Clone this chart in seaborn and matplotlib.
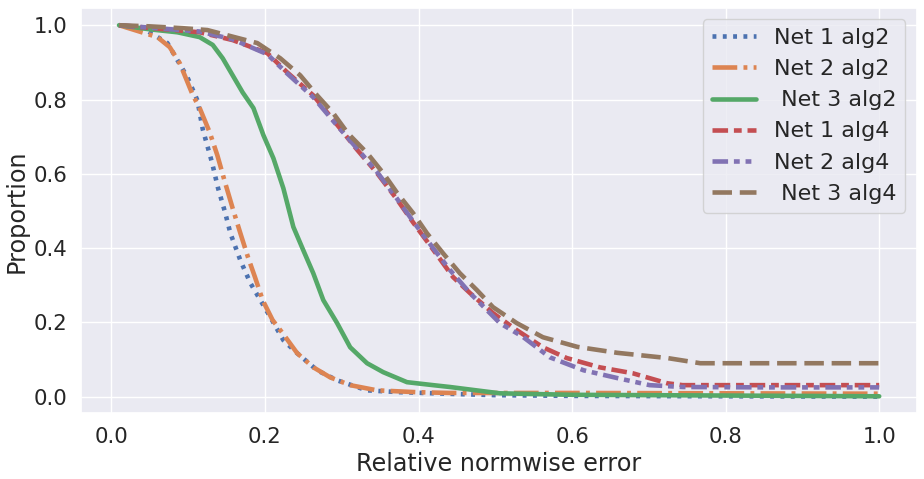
import numpy as np
import pandas as pd
import seaborn as sns
import matplotlib.pyplot as plt

# curves (relative error vs proportion above it)
net1_alg2_x = [0.010, 0.041, 0.073, 0.086, 0.099, 0.112, 0.119, 0.131, 0.139, 0.148, 0.155,
               0.168, 0.181, 0.194, 0.207, 0.224, 0.242, 0.268, 0.294, 0.333, 0.376, 0.45,
               0.5, 0.6, 0.8, 1.0]
net1_alg2_y = [1.000, 0.992, 0.952, 0.906, 0.860, 0.798, 0.720, 0.631, 0.561, 0.497, 0.440,
               0.367, 0.306, 0.260, 0.214, 0.152, 0.117, 0.071, 0.044, 0.017, 0.012, 0.007,
               0.004, 0.002, 0.001, 0.000]

net2_alg2_x = [0.010, 0.060, 0.076, 0.089, 0.106, 0.115, 0.128, 0.138, 0.148, 0.158, 0.168,
               0.178, 0.187, 0.197, 0.210, 0.223, 0.242, 0.263, 0.285, 0.311, 0.346, 0.398,
               0.441, 0.6, 0.8, 1.0]
net2_alg2_y = [1.000, 0.968, 0.941, 0.898, 0.812, 0.777, 0.712, 0.650, 0.577, 0.507, 0.440,
               0.375, 0.322, 0.260, 0.206, 0.171, 0.117, 0.079, 0.052, 0.031, 0.017, 0.012,
               0.010, 0.010, 0.009, 0.008]

net3_alg2_x = [0.010, 0.050, 0.086, 0.115, 0.132, 0.145, 0.158, 0.171, 0.185, 0.198, 0.211,
               0.224, 0.233, 0.237, 0.250, 0.263, 0.276, 0.294, 0.311, 0.333, 0.354, 0.385,
               0.419, 0.441, 0.506, 0.6, 0.8, 1.0]
net3_alg2_y = [1.000, 0.989, 0.981, 0.968, 0.947, 0.911, 0.865, 0.819, 0.777, 0.704, 0.642,
               0.561, 0.489, 0.457, 0.394, 0.332, 0.260, 0.198, 0.133, 0.090, 0.066, 0.039,
               0.031, 0.026, 0.009, 0.005, 0.003, 0.001]

net1_alg4_x = [0.010, 0.115, 0.158, 0.203, 0.229, 0.263, 0.289, 0.320, 0.346, 0.372, 0.393,
               0.419, 0.445, 0.467, 0.497, 0.528, 0.562, 0.593, 0.636, 0.679, 0.724, 0.744,
               0.85, 1.0]
net1_alg4_y = [1.000, 0.981, 0.960, 0.925, 0.873, 0.811, 0.745, 0.665, 0.602, 0.531, 0.469,
               0.396, 0.322, 0.279, 0.225, 0.179, 0.133, 0.104, 0.079, 0.063, 0.036, 0.031,
               0.031, 0.031]

net2_alg4_x = [0.010, 0.115, 0.158, 0.203, 0.229, 0.263, 0.289, 0.320, 0.346, 0.372, 0.393,
               0.419, 0.441, 0.467, 0.506, 0.536, 0.571, 0.615, 0.659, 0.701, 0.744, 0.85,
               1.0]
net2_alg4_y = [1.000, 0.983, 0.962, 0.922, 0.870, 0.806, 0.742, 0.668, 0.605, 0.533, 0.472,
               0.400, 0.341, 0.279, 0.198, 0.161, 0.106, 0.071, 0.050, 0.031, 0.026, 0.025,
               0.025]

net3_alg4_x = [0.010, 0.050, 0.093, 0.125, 0.151, 0.190, 0.220, 0.246, 0.268, 0.289, 0.308,
               0.333, 0.354, 0.372, 0.393, 0.411, 0.432, 0.454, 0.476, 0.497, 0.528, 0.562,
               0.607, 0.659, 0.724, 0.767, 0.832, 0.92, 1.0]
net3_alg4_y = [1.000, 0.997, 0.992, 0.987, 0.973, 0.952, 0.911, 0.865, 0.811, 0.763, 0.709,
               0.656, 0.602, 0.549, 0.494, 0.440, 0.386, 0.332, 0.287, 0.241, 0.198, 0.160,
               0.134, 0.118, 0.104, 0.090, 0.090, 0.090, 0.090]

labels = ["Net 1 alg2", "Net 2 alg2", " Net 3 alg2", "Net 1 alg4", "Net 2 alg4", " Net 3 alg4"]
series = [(net1_alg2_x, net1_alg2_y), (net2_alg2_x, net2_alg2_y), (net3_alg2_x, net3_alg2_y),
          (net1_alg4_x, net1_alg4_y), (net2_alg4_x, net2_alg4_y), (net3_alg4_x, net3_alg4_y)]
# dash patterns are in units of line width
styles = [(0, (0.85, 1.4)), (0, (5.4, 1.36, 0.85, 1.36)), '-',
          (0, (3.4, 1.27, 1.7, 1.27)), (0, (3.4, 1.27, 1.27, 1.27, 1.27, 1.27)), (0, (4.25, 1.7))]

sns.set_theme(style="darkgrid")
plt.rcParams.update({
    'xtick.labelsize': 15.3,
    'ytick.labelsize': 15.3,
    'axes.labelsize': 17.2,
    'legend.fontsize': 16,
})

fig, ax = plt.subplots(figsize=(9.24, 4.79), dpi=100)
fig.subplots_adjust(left=0.0877, right=0.992, top=0.983, bottom=0.137)

palette = sns.color_palette("deep", 6)
for (xs, ys), lab, ls, col in zip(series, labels, styles, palette):
    df = pd.DataFrame({'x': xs, 'y': ys})
    sns.lineplot(data=df, x='x', y='y', ax=ax, label=lab, color=col,
                 linewidth=3.3, linestyle=ls, estimator=None, sort=False)

ax.set_xlim(-0.0395, 1.0487)
ax.set_ylim(-0.045, 1.046)
ax.set_xticks(np.arange(0, 1.01, 0.2))
ax.set_yticks(np.arange(0, 1.01, 0.2))
ax.set_xlabel("Relative normwise error")
ax.set_ylabel("Proportion")
ax.legend(loc="upper right")

fig.savefig("out.png", dpi=100)
